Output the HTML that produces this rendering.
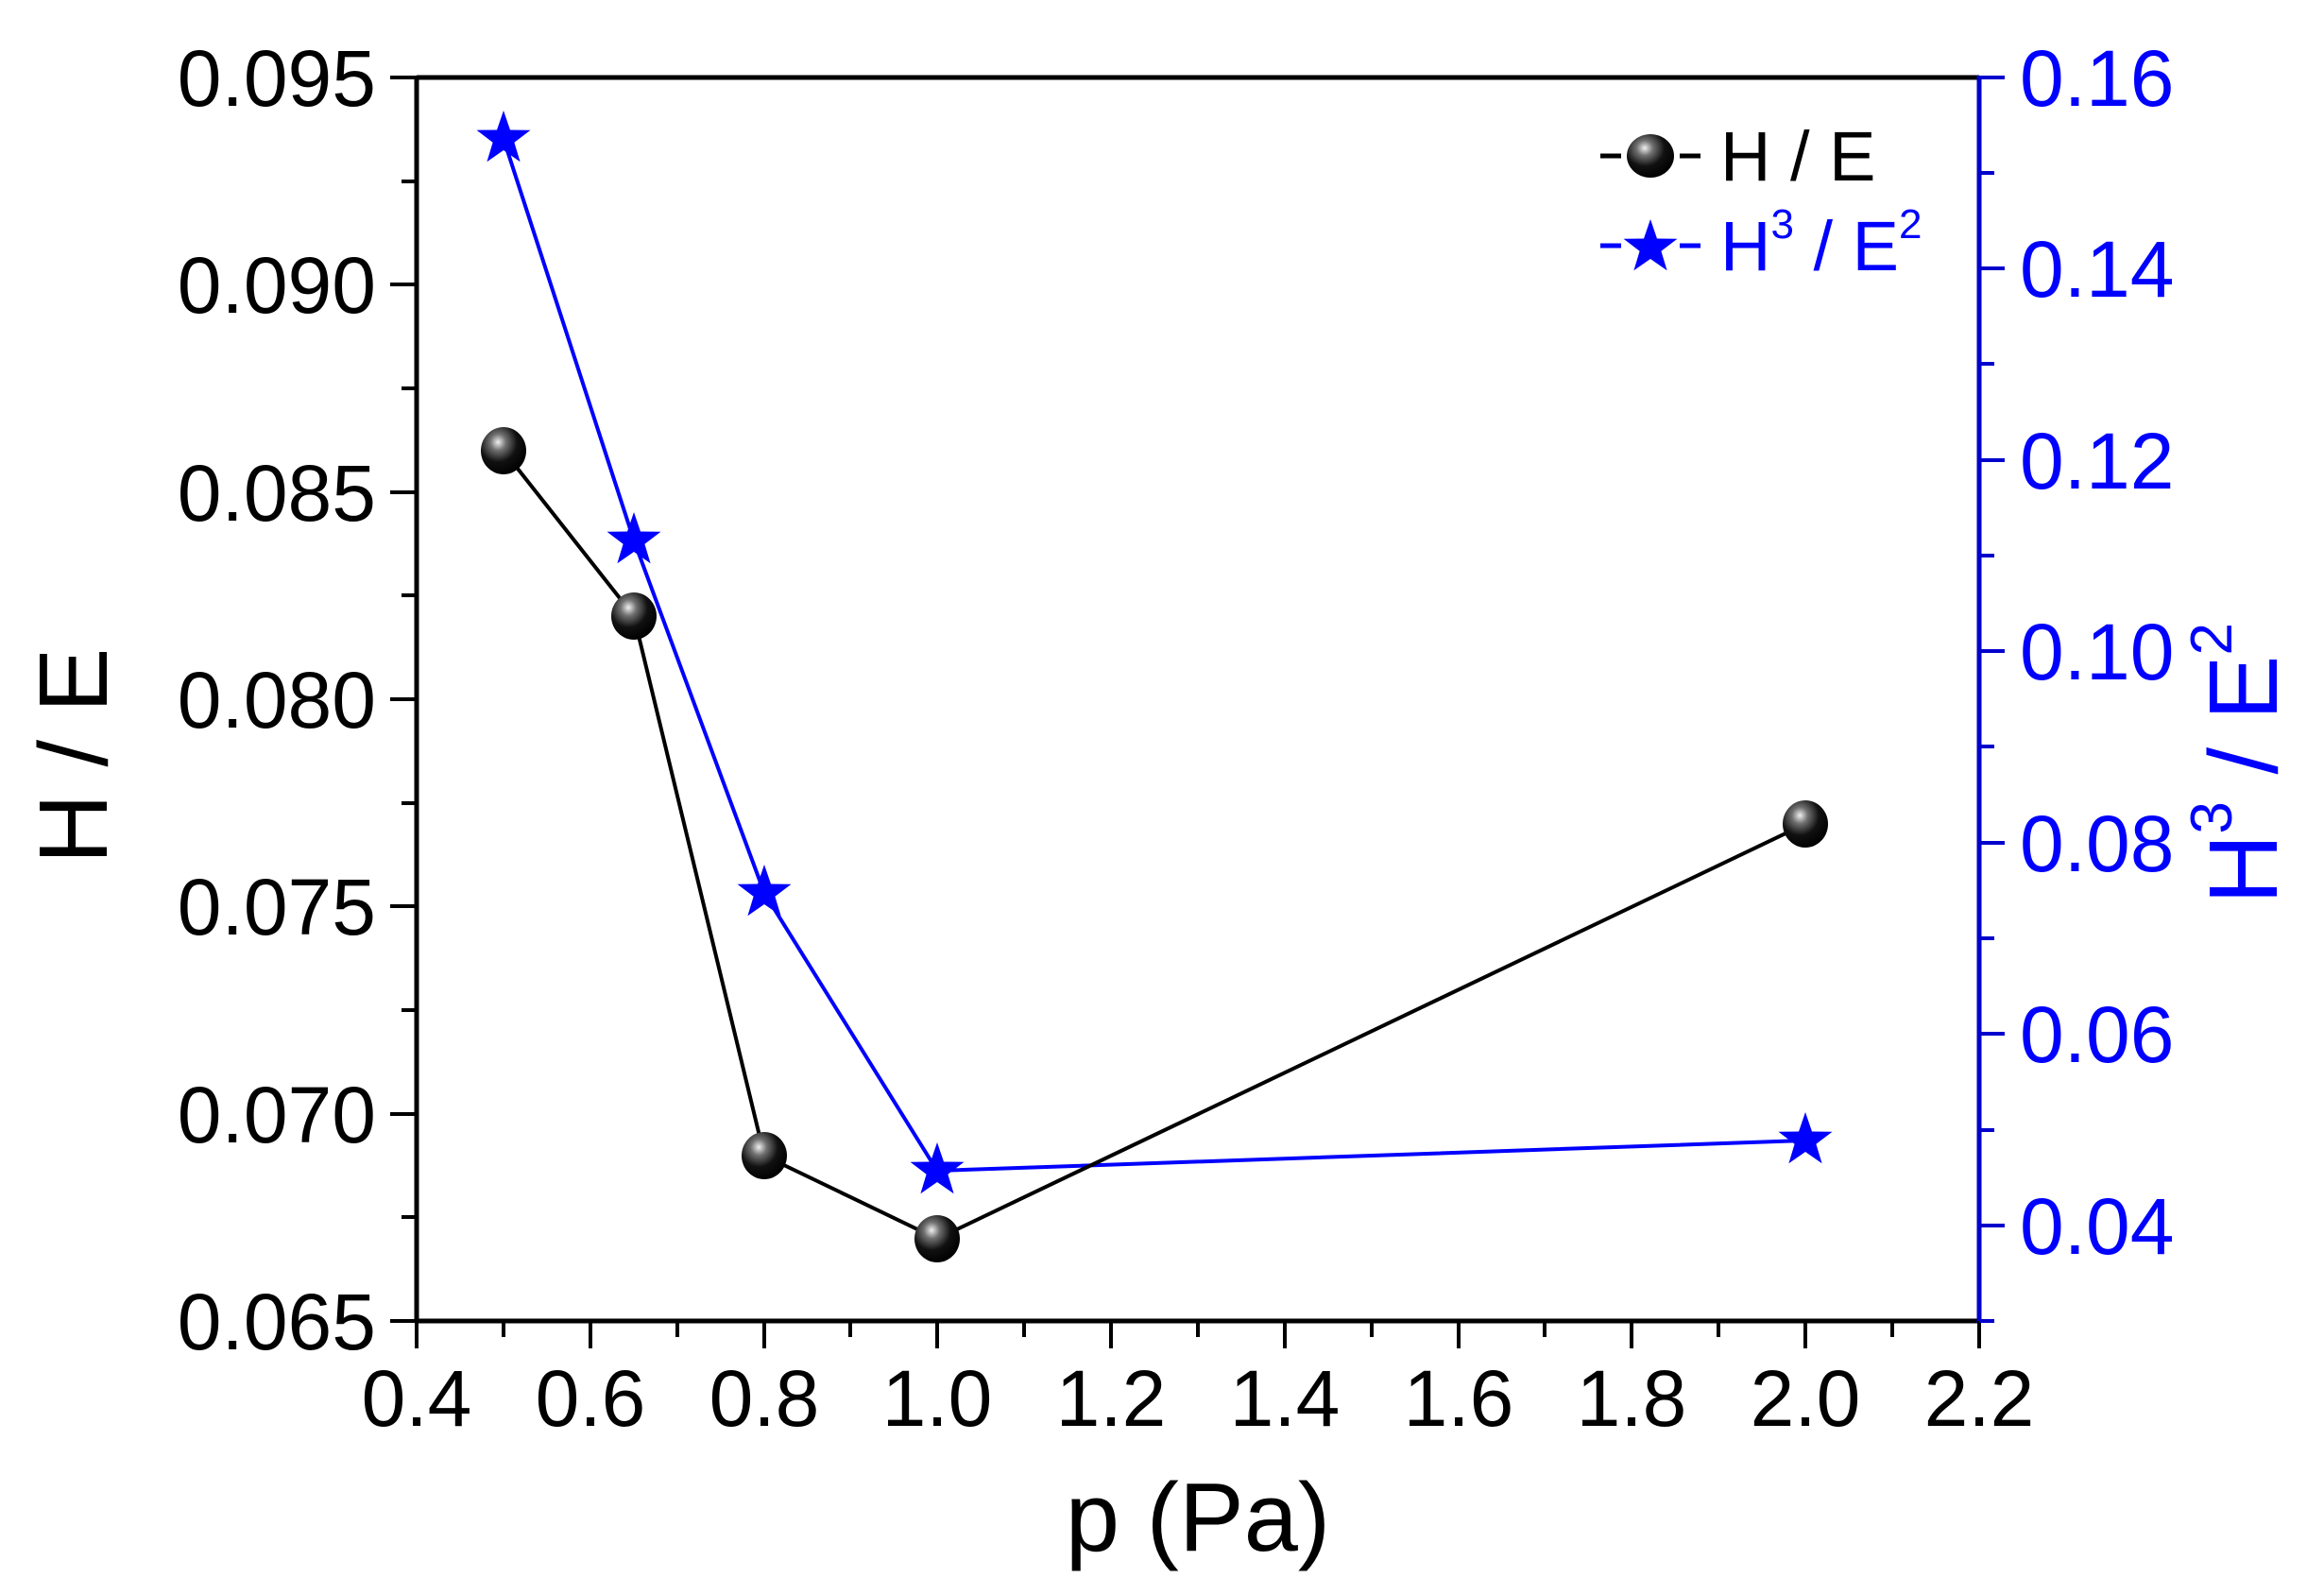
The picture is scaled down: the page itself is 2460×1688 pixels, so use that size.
<!DOCTYPE html>
<html><head><meta charset="utf-8"><style>html,body{margin:0;padding:0;background:#fff}svg{display:block}</style></head>
<body>
<svg width="2460" height="1688" viewBox="0 0 2460 1688" xmlns="http://www.w3.org/2000/svg" font-family="Liberation Sans, Arial, sans-serif">
<defs>
<radialGradient id="sph" cx="0.38" cy="0.32" r="0.7">
<stop offset="0" stop-color="#f0f0f0"/><stop offset="0.25" stop-color="#707070"/><stop offset="0.6" stop-color="#111"/><stop offset="1" stop-color="#000"/>
</radialGradient>
<polygon id="star" fill="#0000ff" points="0,-30 7,-9.5 28.5,-9.3 11.4,3.7 17.6,24.3 0,12 -17.6,24.3 -11.4,3.7 -28.5,-9.3 -7,-9.5"/>
</defs>
<!-- frame -->
<line x1="441" y1="82" x2="2095" y2="82" stroke="#000" stroke-width="5"/>
<line x1="441" y1="80" x2="441" y2="1400" stroke="#000" stroke-width="5"/>
<line x1="439" y1="1398" x2="2095" y2="1398" stroke="#000" stroke-width="5"/>
<line x1="2095" y1="80" x2="2095" y2="1400" stroke="#0000cc" stroke-width="5"/>
<!-- left ticks -->
<g stroke="#000" stroke-width="4">
<line x1="413" y1="82" x2="441" y2="82"/><line x1="413" y1="301" x2="441" y2="301"/><line x1="413" y1="521" x2="441" y2="521"/><line x1="413" y1="740" x2="441" y2="740"/><line x1="413" y1="959" x2="441" y2="959"/><line x1="413" y1="1179" x2="441" y2="1179"/><line x1="413" y1="1398" x2="441" y2="1398"/>
<line x1="425" y1="192" x2="441" y2="192"/><line x1="425" y1="411" x2="441" y2="411"/><line x1="425" y1="630" x2="441" y2="630"/><line x1="425" y1="850" x2="441" y2="850"/><line x1="425" y1="1069" x2="441" y2="1069"/><line x1="425" y1="1288" x2="441" y2="1288"/>
</g>
<!-- bottom ticks -->
<g stroke="#000" stroke-width="4">
<line x1="441" y1="1398" x2="441" y2="1427"/><line x1="625" y1="1398" x2="625" y2="1427"/><line x1="809" y1="1398" x2="809" y2="1427"/><line x1="992" y1="1398" x2="992" y2="1427"/><line x1="1176" y1="1398" x2="1176" y2="1427"/><line x1="1360" y1="1398" x2="1360" y2="1427"/><line x1="1544" y1="1398" x2="1544" y2="1427"/><line x1="1727" y1="1398" x2="1727" y2="1427"/><line x1="1911" y1="1398" x2="1911" y2="1427"/><line x1="2095" y1="1398" x2="2095" y2="1427"/>
<line x1="533" y1="1398" x2="533" y2="1415"/><line x1="717" y1="1398" x2="717" y2="1415"/><line x1="900" y1="1398" x2="900" y2="1415"/><line x1="1084" y1="1398" x2="1084" y2="1415"/><line x1="1268" y1="1398" x2="1268" y2="1415"/><line x1="1452" y1="1398" x2="1452" y2="1415"/><line x1="1635" y1="1398" x2="1635" y2="1415"/><line x1="1819" y1="1398" x2="1819" y2="1415"/><line x1="2003" y1="1398" x2="2003" y2="1415"/>
</g>
<!-- right ticks -->
<g stroke="#0000cc" stroke-width="4">
<line x1="2095" y1="82" x2="2122" y2="82"/><line x1="2095" y1="284" x2="2122" y2="284"/><line x1="2095" y1="487" x2="2122" y2="487"/><line x1="2095" y1="689" x2="2122" y2="689"/><line x1="2095" y1="892" x2="2122" y2="892"/><line x1="2095" y1="1094" x2="2122" y2="1094"/><line x1="2095" y1="1297" x2="2122" y2="1297"/>
<line x1="2095" y1="183" x2="2111" y2="183"/><line x1="2095" y1="385" x2="2111" y2="385"/><line x1="2095" y1="588" x2="2111" y2="588"/><line x1="2095" y1="790" x2="2111" y2="790"/><line x1="2095" y1="993" x2="2111" y2="993"/><line x1="2095" y1="1196" x2="2111" y2="1196"/><line x1="2095" y1="1398" x2="2111" y2="1398"/>
</g>
<!-- left labels -->
<g font-size="84" fill="#000" text-anchor="end">
<text x="398" y="112">0.095</text><text x="398" y="331">0.090</text><text x="398" y="551">0.085</text><text x="398" y="770">0.080</text><text x="398" y="989">0.075</text><text x="398" y="1209">0.070</text><text x="398" y="1428">0.065</text>
</g>
<!-- bottom labels -->
<g font-size="84" fill="#000" text-anchor="middle">
<text x="441" y="1509">0.4</text><text x="625" y="1509">0.6</text><text x="809" y="1509">0.8</text><text x="992" y="1509">1.0</text><text x="1176" y="1509">1.2</text><text x="1360" y="1509">1.4</text><text x="1544" y="1509">1.6</text><text x="1727" y="1509">1.8</text><text x="1911" y="1509">2.0</text><text x="2095" y="1509">2.2</text>
</g>
<!-- right labels -->
<g font-size="84" fill="#0000ff">
<text x="2138" y="112">0.16</text><text x="2138" y="314">0.14</text><text x="2138" y="517">0.12</text><text x="2138" y="719">0.10</text><text x="2138" y="922">0.08</text><text x="2138" y="1124">0.06</text><text x="2138" y="1327">0.04</text>
</g>
<!-- axis titles -->
<text x="1268" y="1641" font-size="103" text-anchor="middle" fill="#000">p (Pa)</text>
<text transform="translate(113,800) rotate(-90)" font-size="103" text-anchor="middle" fill="#000">H / E</text>
<text transform="translate(2410,808) rotate(-90)" font-size="103" text-anchor="middle" fill="#0000ff">H<tspan font-size="62" dy="-48">3</tspan><tspan dy="48"> / E</tspan><tspan font-size="62" dy="-48">2</tspan></text>
<!-- series H3/E2 -->
<polyline fill="none" stroke="#0000ff" stroke-width="4" points="533,147 671,572 809,945 992,1239 1911,1207"/>
<!-- series H/E -->
<polyline fill="none" stroke="#000" stroke-width="4" points="533,477 671,652 809,1223 992,1311 1911,872"/>
<g>
<ellipse cx="533" cy="477" rx="24" ry="25" fill="url(#sph)"/>
<ellipse cx="671" cy="652" rx="24" ry="25" fill="url(#sph)"/>
<ellipse cx="809" cy="1223" rx="24" ry="25" fill="url(#sph)"/>
<ellipse cx="992" cy="1311" rx="24" ry="25" fill="url(#sph)"/>
<ellipse cx="1911" cy="872" rx="24" ry="25" fill="url(#sph)"/>
</g>
<use href="#star" x="533" y="147"/>
<use href="#star" x="671" y="572"/>
<use href="#star" x="809" y="945"/>
<use href="#star" x="992" y="1239"/>
<use href="#star" x="1911" y="1207"/>
<!-- legend -->
<line x1="1694" y1="165" x2="1716" y2="165" stroke="#000" stroke-width="5"/>
<line x1="1778" y1="165" x2="1800" y2="165" stroke="#000" stroke-width="5"/>
<ellipse cx="1747" cy="165" rx="25" ry="23" fill="url(#sph)"/>
<text x="1821" y="191" font-size="74" fill="#000">H / E</text>
<line x1="1694" y1="260" x2="1716" y2="260" stroke="#0000ff" stroke-width="5"/>
<line x1="1778" y1="260" x2="1800" y2="260" stroke="#0000ff" stroke-width="5"/>
<use href="#star" x="1747" y="262"/>
<text x="1821" y="286" font-size="74" fill="#0000ff">H<tspan font-size="44" dy="-34">3</tspan><tspan dy="34"> / E</tspan><tspan font-size="44" dy="-34">2</tspan></text>
</svg>
</body></html>
